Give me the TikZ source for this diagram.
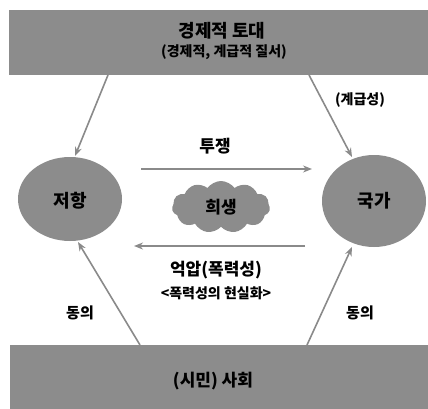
\documentclass[tikz,border=0pt]{standalone}
\usepackage{fontspec}
\setmainfont{Noto Sans CJK KR}
\usetikzlibrary{arrows.meta,shapes.symbols}
\definecolor{band}{HTML}{8C8C8C}
\definecolor{ln}{HTML}{8A8A8A}
\tikzset{
  x=1pt,y=-1pt,
  lbl/.style={font=\bfseries\fontsize{#1}{#1}\selectfont,text=black,inner sep=0pt},
  arr/.style={draw=ln,line width=1.6pt,-{Stealth[length=9pt,width=7pt]}},
}
\begin{document}
\begin{tikzpicture}
\useasboundingbox (0,0) rectangle (428,409);
% bands
\fill[band] (9,10) rectangle (428,75);
\fill[band] (10,345) rectangle (428,409);
\node[lbl=18] (top) at (222,31) {경제적 토대};
\node[lbl=14] (topsub) at (224,52) {(경제적, 계급적 질서)};
\node[lbl=17] (bot) at (213,381) {(시민) 사회};
% circles
\fill[band] (70,199) ellipse [x radius=52, y radius=42];
\fill[band] (374,201) ellipse [x radius=52, y radius=46];
\node[lbl=18] (jeo) at (70,201) {저항};
\node[lbl=18] (guk) at (374,201) {국가};
\coordinate (jtop) at (75,156);
\coordinate (jbot) at (78,242);
\coordinate (gtop) at (352,157);
\coordinate (gbot) at (352,247);
% cloud
\node[cloud, cloud puffs=11, cloud puff arc=110, aspect=2, fill=band, draw=none,
      minimum width=98pt, minimum height=52pt, inner sep=0pt] (cl) at (221,207) {};
\node[lbl=17] at (cl.center) {희생};
% band anchors
\coordinate (tl) at (108,75);
\coordinate (tr) at (309,75);
\coordinate (bl) at (140,345);
\coordinate (br) at (307,345);
\draw[arr] (tl) -- (jtop);
\draw[arr] (tr) -- (gtop);
\draw[arr] (bl) -- (jbot);
\draw[arr] (br) -- (gbot);
% horizontal arrows
\coordinate (h1a) at (141,169);
\coordinate (h1b) at (312,169);
\coordinate (h2a) at (305,246);
\coordinate (h2b) at (134,246);
\draw[arr] (h1a) -- (h1b);
\draw[arr] (h2a) -- (h2b);
\node[lbl=17] (tu) at (215,146) {투쟁};
\node[lbl=17] (eok) at (216,270) {억압(폭력성)};
\node[lbl=14] (eoksub) at (216,293) {<폭력성의 현실화>};
\node[lbl=14] (gye) at (360,100) {(계급성)};
\node[lbl=15] (d1) at (80,313) {동의};
\node[lbl=15] (d2) at (360,313) {동의};
\end{tikzpicture}
\end{document}
